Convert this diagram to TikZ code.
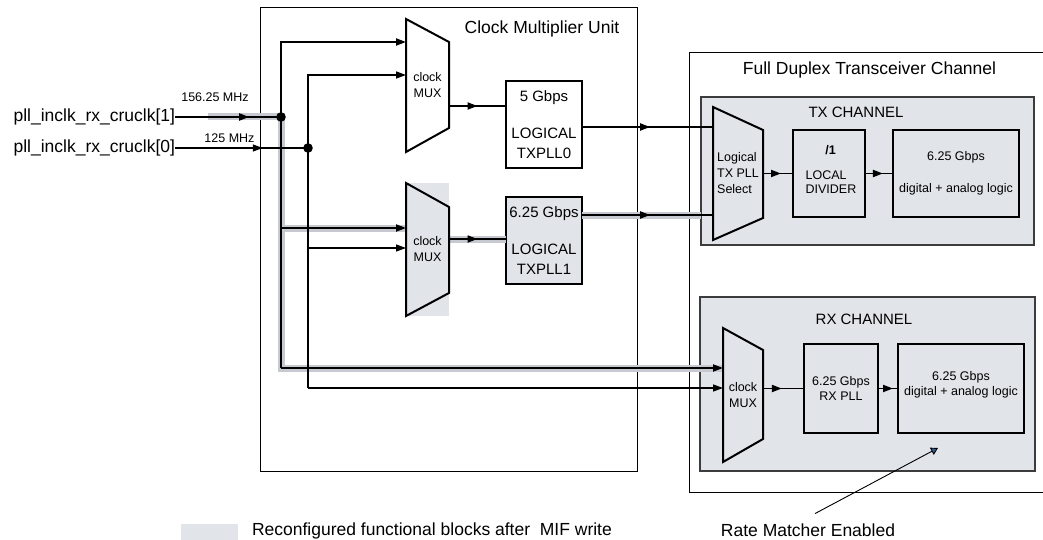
\documentclass[tikz,border=0pt]{standalone}
\usepackage{fontspec}
\setmainfont{Liberation Sans}
\usetikzlibrary{arrows.meta,positioning,decorations.markings}
\definecolor{cmuGray}{RGB}{225,228,233}
\definecolor{cmuHi}{RGB}{198,201,208}
\definecolor{cmuEdge}{RGB}{60,60,60}
\definecolor{cmuTip}{RGB}{40,95,150}

\begin{document}
\begin{tikzpicture}[
  x=1pt, y=-1pt,
  every node/.style={inner sep=0pt, outer sep=0pt},
  big/.style={font=\fontsize{17.5}{21}\selectfont},
  mid/.style={font=\fontsize{15}{20}\selectfont, align=center},
  small/.style={font=\fontsize{12.5}{16}\selectfont, align=center},
  unit/.style={draw=black, line width=1pt},
  chan/.style={draw=cmuEdge, fill=cmuGray, line width=1.1pt},
  blk/.style={draw=black, line width=1.1pt},
  muxlbl/.style={small, minimum width=#1},
  muxline/.style={draw=black, line width=2pt, line join=miter},
  wire/.style={draw=black, line width=1.3pt},
  bus/.style={draw=black, line width=1.9pt},
  hilite/.style={draw=cmuHi, line width=7pt},
  tipped/.style={-{Triangle[length=10pt,width=7pt]}},
  midarr/.style={postaction={decorate, decoration={markings,
      mark=at position #1 with {\arrow{Triangle[length=10pt,width=7pt]}}}}}
]
\useasboundingbox (0,0) rectangle (1043,540);

% outer units
\node[unit, minimum width=377pt, minimum height=463pt] (cmu) at (448.5,239.5) {};
\node[unit, minimum width=356pt, minimum height=439pt] (fdx) at (867,272.5) {};
\node[big] (cmutitle) at (542,29) {Clock Multiplier Unit};
\node[big] (fdxtitle) at (869.5,70) {Full Duplex Transceiver Channel};

% channels
\node[chan, minimum width=333pt, minimum height=148pt] (txch) at (867.5,171) {};
\node[chan, minimum width=335pt, minimum height=174pt] (rxch) at (867.5,384) {};
\node[mid] (txtitle) at (856,112) {TX CHANNEL};
\node[mid] (rxtitle) at (864,319) {RX CHANNEL};

% inputs
\node[big, anchor=east] (in1) at (175,117) {pll\_inclk\_rx\_cruclk[1]};
\node[big, anchor=east] (in0) at (175,148) {pll\_inclk\_rx\_cruclk[0]};
\node[small] (f1) at (215,97) {156.25 MHz};
\node[small] (f0) at (229.5,138.5) {125 MHz};

% muxes (label nodes, outline drawn below)
\node[muxlbl=43pt, minimum height=133pt] (mux1) at (427.5,85.5) {clock\\MUX};
\node[muxlbl=43pt, minimum height=133pt, fill=cmuGray] (mux2) at (427.5,249.5) {clock\\MUX};
\node[muxlbl=50pt, minimum height=133pt, align=left] (txsel) at (738,173.5) {Logical\\TX PLL\\Select};
\node[muxlbl=40pt, minimum height=134pt] (rxmux) at (743,395) {clock\\MUX};

% blocks
\node[blk, mid, fill=white, minimum width=76pt, minimum height=87pt] (pll0) at (544,124.5) {5 Gbps\\[17pt]LOGICAL\\TXPLL0};
\node[blk, mid, fill=cmuGray, minimum width=76pt, minimum height=87pt] (pll1) at (544,240.5) {6.25 Gbps\\[17pt]LOGICAL\\TXPLL1};
\node[blk, minimum width=72pt, minimum height=87pt] (div) at (829,173.5) {};
\node[small, font=\fontsize{12.5}{16}\selectfont\bfseries] (divratio) at (830.5,150) {/1};
\node[small, font=\fontsize{12.5}{14.5}\selectfont, align=left] (divtxt) at (831,182) {LOCAL\\DIVIDER};
\node[blk, small, minimum width=126pt, minimum height=87pt] (txlogic) at (956,173.5) {6.25 Gbps\\[16pt]digital + analog logic};
\node[blk, small, font=\fontsize{12.5}{15}\selectfont, minimum width=74pt, minimum height=89pt] (rxpll) at (841,388.5) {6.25 Gbps\\RX PLL};
\node[blk, minimum width=126pt, minimum height=89pt] (rxlogic) at (961,388.5) {};
\node[small, font=\fontsize{12.5}{15}\selectfont] (rxlogictxt) at (961,385) {6.25 Gbps\\digital + analog logic};

% bus taps
\coordinate (j1) at (281,117);
\coordinate (j0) at (308,148);
\coordinate (b1top) at (281,42);
\coordinate (b1m2) at (281,228);
\coordinate (b1rx) at (281,368);
\coordinate (b0top) at (308,75);
\coordinate (b0m2) at (308,248);
\coordinate (b0rx) at (308,388);
\coordinate (m1o) at ([yshift=-20.5pt]mux1.east);
\coordinate (m2o) at ([yshift=10.5pt]mux2.east);
\coordinate (p0o) at ([yshift=-2.5pt]pll0.east);
\coordinate (p1o) at ([yshift=25.5pt]pll1.east);

% reconfigured path
\draw[hilite] ([xshift=33pt]in1.east) -- (j1) -- (b1rx) -- (b1rx -| rxmux.west);
\draw[hilite] (b1m2) -- (b1m2 -| mux2.west);
\draw[hilite] (m2o) -- (m2o -| pll1.west);
\draw[hilite] (p1o) -- (p1o -| txch.west);

% clock wires
\draw[bus, midarr=.7] (in1.east) -- (j1);
\draw[wire, midarr=.66] (in0.east) -- (j0);
\draw[bus, tipped] (b1rx) -- (b1top) -- (b1top -| mux1.west);
\draw[bus, tipped] (b1m2) -- (b1m2 -| mux2.west);
\draw[bus, tipped] (b1rx) -- (b1rx -| rxmux.west);
\draw[wire, tipped] (b0rx) -- (b0top) -- (b0top -| mux1.west);
\draw[wire, tipped] (b0m2) -- (b0m2 -| mux2.west);
\draw[wire, tipped] (b0rx) -- (b0rx -| rxmux.west);
\fill (j1) circle (4.8pt);
\fill (j0) circle (4.8pt);

\draw[bus, midarr=.5] (m1o) -- (m1o -| pll0.west);
\draw[bus, midarr=.5] (m2o) -- (m2o -| pll1.west);
\draw[bus, midarr=.52] (p0o) -- (p0o -| txsel.west);
\draw[bus, midarr=.52] (p1o) -- (p1o -| txsel.west);
\draw[bus, midarr=.6] (txsel.east) -- (div.west);
\draw[bus, midarr=.64] (div.east) -- (txlogic.west);
\draw[bus, midarr=.46] (rxmux.east |- rxpll) -- (rxpll.west);
\draw[bus, midarr=.75] (rxpll.east) -- (rxlogic.west);

% mux outlines
\draw[muxline] (mux1.north west) -- ([yshift=-23pt]mux1.north east) -- ([yshift=24pt]mux1.south east) -- (mux1.south west) -- cycle;
\draw[muxline] (mux2.north west) -- ([yshift=-24pt]mux2.north east) -- ([yshift=23pt]mux2.south east) -- (mux2.south west) -- cycle;
\draw[muxline] (txsel.north west) -- ([yshift=-23pt]txsel.north east) -- ([yshift=22pt]txsel.south east) -- (txsel.south west) -- cycle;
\draw[muxline] (rxmux.north west) -- ([yshift=-22pt]rxmux.north east) -- ([yshift=23pt]rxmux.south east) -- (rxmux.south west) -- cycle;

% rate matcher note
\coordinate (rmtip) at (938,448);
\node[big] (rate) at (808,530) {Rate Matcher Enabled};
\draw[line width=0.9pt, -{Triangle[length=7pt,width=8pt,fill=cmuTip]}] ([shift={(7pt,10pt)}]rate.north) -- (rmtip);

% legend
\node[fill=cmuGray, minimum width=57pt, minimum height=16pt] (keybox) at (209.5,532) {};
\node[big, anchor=base west] (keytext) at (252,535.5) {Reconfigured functional blocks after~ MIF write};
\end{tikzpicture}
\end{document}
